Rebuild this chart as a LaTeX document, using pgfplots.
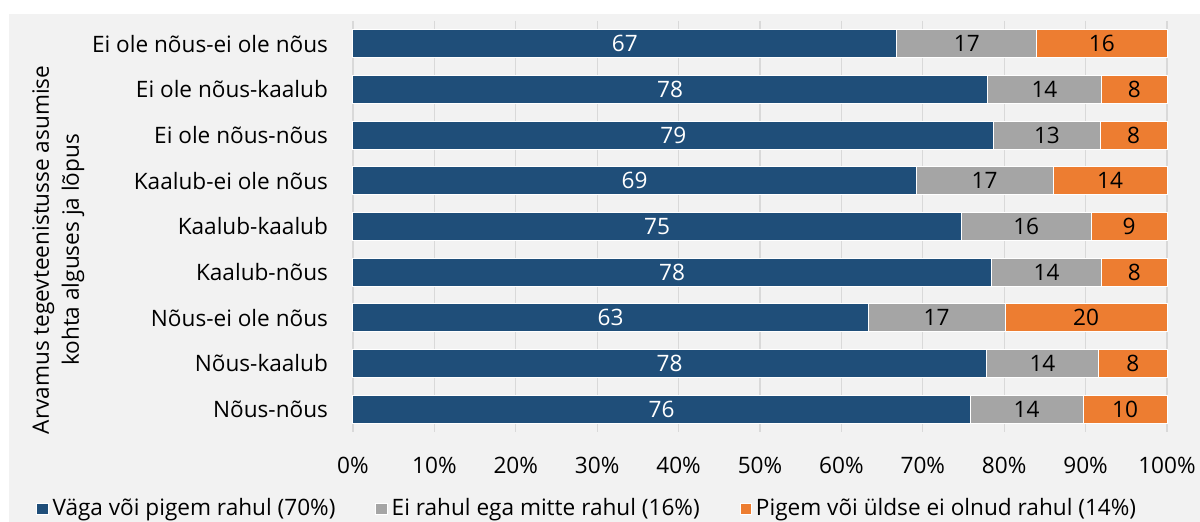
\documentclass[border=0pt]{standalone}
\usepackage{pgfplots}
\pgfplotsset{compat=1.18}
\usepackage{fontspec}
\setmainfont{Open Sans}
\definecolor{cblue}{HTML}{1F4E79}
\definecolor{cgrey}{HTML}{A5A5A5}
\definecolor{corange}{HTML}{ED7D31}
\definecolor{bgc}{HTML}{F2F2F2}
\definecolor{gridc}{HTML}{D9D9D9}
\begin{document}
\begin{tikzpicture}
\path[use as bounding box] (-176.5pt,-45pt) rectangle (423.5pt,216pt);
\fill[bgc] (-172pt,-45pt) rectangle (423.5pt,209pt);
\begin{axis}[
  at={(0,0)}, anchor=south west, scale only axis,
  width=407pt, height=205.5pt,
  xbar stacked, bar width=14pt,
  xmin=0, xmax=100, ymin=-0.5, ymax=8.5, y dir=reverse,
  clip=false,
  ytick={0,...,8},
  yticklabels={Ei ole nõus-ei ole nõus, Ei ole nõus-kaalub, Ei ole nõus-nõus, Kaalub-ei ole nõus, Kaalub-kaalub, Kaalub-nõus, Nõus-ei ole nõus, Nõus-kaalub, Nõus-nõus},
  xtick={0,10,...,100},
  xticklabel={\pgfmathprintnumber{\tick}\%},
  /pgf/number format/assume math mode=true,
  axis line style={draw=none},
  major tick length=0pt,
  xmajorgrids, grid style={gridc, line width=0.6pt},
  tick label style={font=\fontsize{11.3}{13}\selectfont},
  yticklabel style={xshift=-9pt},
  xticklabel style={yshift=-9pt},
  nodes near coords={\pgfmathprintnumber[fixed,precision=0]{\pgfplotspointmeta}},
  every node near coord/.append style={font=\fontsize{11.3}{13}\selectfont, black},
  legend columns=3,
  legend style={at={(0.289,-0.187)}, anchor=center, draw=none, fill=none,
    font=\fontsize{11.3}{13}\selectfont,
    /tikz/every even column/.append style={column sep=18pt}},
  legend image code/.code={\fill[#1] (0pt,-2.8pt) rectangle (5.6pt,2.8pt);},
]
\addplot[fill=cblue, draw=white, line width=0.5pt, every node near coord/.append style={white}] coordinates {(66.8,0) (77.9,1) (78.7,2) (69.2,3) (74.7,4) (78.4,5) (63.3,6) (77.8,7) (75.8,8)};
\addplot[fill=cgrey, draw=white, line width=0.5pt] coordinates {(17.2,0) (14.1,1) (13.1,2) (16.8,3) (16.0,4) (13.6,5) (16.8,6) (13.8,7) (13.9,8)};
\addplot[fill=corange, draw=white, line width=0.5pt] coordinates {(16.0,0) (8.0,1) (8.2,2) (14.0,3) (9.3,4) (8.0,5) (19.9,6) (8.4,7) (10.3,8)};
\legend{Väga või pigem rahul (70\%), Ei rahul ega mitte rahul (16\%), Pigem või üldse ei olnud rahul (14\%)}
\node[rotate=90, align=center, font=\fontsize{11.3}{15}\selectfont] at (rel axis cs:-0.362,0.443) {Arvamus tegevteenistusse asumise\\kohta alguses ja lõpus};
\end{axis}
\end{tikzpicture}
\end{document}
